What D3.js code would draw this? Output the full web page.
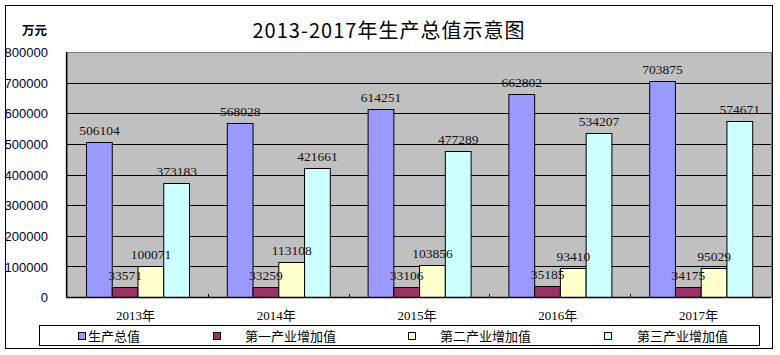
<!DOCTYPE html>
<html><head><meta charset="utf-8">
<script src="https://cdn.jsdelivr.net/npm/d3@7/dist/d3.min.js"></script>
<style>
html,body{margin:0;padding:0;background:#fff;}
svg{display:block;}
</style></head>
<body>
<svg id="chart" width="780" height="355"></svg>
<script>
const categories = ["2013年","2014年","2015年","2016年","2017年"];
const seriesNames = ["生产总值","第一产业增加值","第二产业增加值","第三产业增加值"];
const gdp = [506104, 568028, 614251, 662802, 703875];
const primary = [33571, 33259, 33106, 35185, 34175];
const secondary = [100071, 113108, 103856, 93410, 95029];
const tertiary = [373183, 421661, 477289, 534207, 574671];
const yTicks = [0,100000,200000,300000,400000,500000,600000,700000,800000];
const colors = ["#9999FF","#993366","#FFFFCC","#CCFFFF"];
const titleText = "2013-2017年生产总值示意图";
const unitText = "万元";

const seriesValues = [gdp, primary, secondary, tertiary];
const svg = d3.select("#chart");
const serif = "'Liberation Serif','DejaVu Serif','Noto Sans CJK SC',serif";
const sans = "'Liberation Sans','Noto Sans CJK SC',sans-serif";
const cjk = "'Noto Sans CJK SC','Liberation Sans',sans-serif";

const L = 67, R = 771, T = 52, B = 297;

// outer border
svg.append("rect").attr("x",5.5).attr("y",5.5).attr("width",767).attr("height",343)
  .attr("fill","#fff").attr("stroke","#000").attr("stroke-width",1);

// title
svg.append("text").attr("x",252.5).attr("y",38)
  .attr("font-family",cjk).attr("font-size",20).attr("fill","#000")
  .attr("textLength",272).attr("lengthAdjust","spacing")
  .text(titleText);

svg.append("text").attr("x",34.5).attr("y",35).attr("text-anchor","middle")
  .attr("font-family",cjk).attr("font-size",12.5).attr("font-weight","bold").attr("fill","#000")
  .text(unitText);

const y = d3.scaleLinear().domain([0,800000]).range([B,T]);
const x0 = d3.scaleBand().domain(categories).range([L,R]).padding(0);
const x1 = d3.scaleBand().domain(seriesNames).range([19, 122]).padding(0);

// plot bg
svg.append("rect").attr("x",L).attr("y",T).attr("width",R-L).attr("height",B-T)
  .attr("fill","#C0C0C0").attr("stroke","#808080").attr("stroke-width",1)
  .attr("shape-rendering","crispEdges");

// gridlines
svg.append("g").selectAll("line").data(yTicks.filter(d=>d>0 && d<800000)).join("line")
  .attr("x1",L).attr("x2",R)
  .attr("y1",d=>Math.round(y(d))+0.5).attr("y2",d=>Math.round(y(d))+0.5)
  .attr("stroke","#000").attr("stroke-width",1);

// y axis
const yAxis = d3.axisLeft(y).tickValues(yTicks).tickSize(0).tickPadding(0).tickFormat(d3.format("d"));
const gy = svg.append("g").attr("transform",`translate(${L},0)`).call(yAxis);
gy.select(".domain").remove();
gy.selectAll("text").attr("x",-19).attr("dy","0.36em")
  .attr("font-family",sans).attr("font-size",13).attr("fill","#000033");
svg.append("line").attr("x1",L-0.5).attr("x2",L-0.5).attr("y1",T).attr("y2",B+0.5)
  .attr("stroke","#000").attr("stroke-width",1.3);

// bars
const groups = svg.append("g").selectAll("g").data(categories).join("g")
  .attr("transform",c=>`translate(${x0(c)},0)`);
groups.selectAll("rect").data((c,i)=>seriesNames.map((s,j)=>({s, v:seriesValues[j][i], j}))).join("rect")
  .attr("x",d=>x1(d.s)+0.5).attr("width",x1.bandwidth())
  .attr("y",d=>Math.round(y(d.v))+0.5).attr("height",d=>B-Math.round(y(d.v)))
  .attr("fill",d=>colors[d.j]).attr("stroke","#000").attr("stroke-width",1);
groups.selectAll("text").data((c,i)=>seriesNames.map((s,j)=>({s, v:seriesValues[j][i], j}))).join("text")
  .attr("x",d=>x1(d.s)+x1.bandwidth()/2+0.5).attr("y",d=>y(d.v)-7)
  .attr("text-anchor","middle").attr("font-family",serif).attr("font-size",13.5)
  .attr("fill","#111").text(d=>d.v);

// x axis
svg.append("line").attr("x1",L-1).attr("x2",R).attr("y1",B+0.5).attr("y2",B+0.5)
  .attr("stroke","#000").attr("stroke-width",1.3);
const xAxis = d3.axisBottom(x0).tickSize(0).tickPadding(0);
const gx = svg.append("g").attr("transform",`translate(0,${B})`).call(xAxis);
gx.select(".domain").remove();
gx.selectAll("text").attr("y",23).attr("dy",0).attr("x",-2)
  .attr("font-family",serif).attr("font-size",13).attr("fill","#000");
// inner ticks at category boundaries
svg.append("g").selectAll("line").data(categories.slice(1)).join("line")
  .attr("x1",c=>Math.round(x0(c))+0.5).attr("x2",c=>Math.round(x0(c))+0.5)
  .attr("y1",B-3).attr("y2",B).attr("stroke","#000");

// legend
svg.append("rect").attr("x",39.5).attr("y",325.5).attr("width",720).attr("height",20)
  .attr("fill","#fff").attr("stroke","#000").attr("stroke-width",1);
const legendMarkX = [78, 213, 408, 604];
const legendTextX = [88, 245, 440, 637];
const lg = svg.append("g").selectAll("g").data(seriesNames).join("g");
lg.append("rect").attr("x",(d,i)=>legendMarkX[i]+0.5).attr("y",332.5).attr("width",7).attr("height",7)
  .attr("fill",(d,i)=>colors[i]).attr("stroke","#000");
lg.append("text").attr("x",(d,i)=>legendTextX[i]).attr("y",341)
  .attr("font-family",cjk).attr("font-size",13).attr("fill","#000").text(d=>d);
</script>
</body></html>
